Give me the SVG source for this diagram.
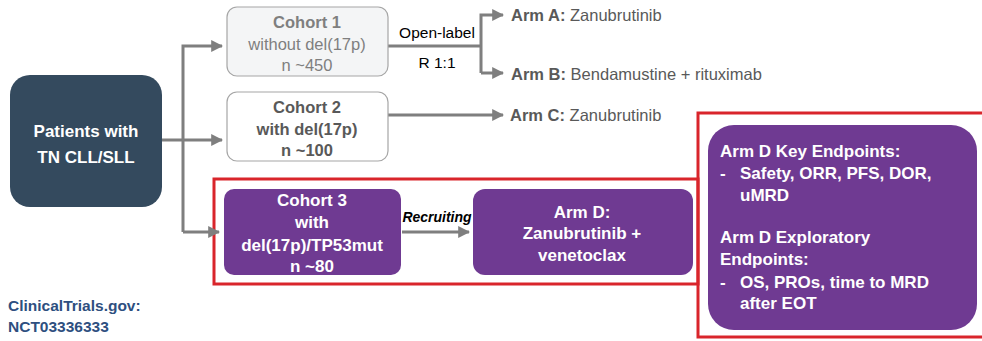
<svg xmlns="http://www.w3.org/2000/svg" width="982" height="341" viewBox="0 0 982 341">
<defs>
<marker id="ah" viewBox="0 0 10 10" refX="9" refY="5" markerWidth="4" markerHeight="4" orient="auto" markerUnits="strokeWidth"><path d="M0,0 L10,5 L0,10 z" fill="#7f7f7f"/></marker>
<style>
text{font-family:"Liberation Sans",Arial,sans-serif;}
.b{font-weight:bold;}
.w{fill:#ffffff;font-weight:bold;font-size:17px;}
.g{fill:#595959;font-size:16.5px;}
.conn{fill:none;stroke:#7f7f7f;stroke-width:3;}
.red{fill:none;stroke:#d9252b;stroke-width:3;}
.pur{fill:#6f3a92;}
</style>
</defs>
<rect width="982" height="341" fill="#ffffff"/>
<g id="highlight">
<rect class="red" x="214" y="179" width="484" height="105"/>
<rect class="red" x="698" y="113" width="290" height="224"/>
</g>
<g id="connectors">
<path class="conn" d="M162,140 H222" marker-end="url(#ah)"/>
<path class="conn" d="M183,232 V46 H222" marker-end="url(#ah)"/>
<path class="conn" d="M183,232 H219" marker-end="url(#ah)"/>
<path class="conn" d="M388,46 H481"/>
<path class="conn" d="M481,73 V15 H503" marker-end="url(#ah)"/>
<path class="conn" d="M481,73 H503" marker-end="url(#ah)"/>
<path class="conn" d="M388,115 H503" marker-end="url(#ah)"/>
<path class="conn" d="M402,232 H469" marker-end="url(#ah)"/>
<text x="437" y="38" text-anchor="middle" fill="#000" font-size="15.5">Open-label</text>
<text x="437" y="68" text-anchor="middle" fill="#000" font-size="15.5">R 1:1</text>
<text x="437" y="222" text-anchor="middle" fill="#000" font-size="14" font-weight="bold" font-style="italic">Recruiting</text>
</g>
<g id="patients">
<rect x="10" y="75" width="152" height="132" rx="20" fill="#344a5e"/>
<text class="w" x="86" y="137" text-anchor="middle">Patients with</text>
<text class="w" x="86" y="163" text-anchor="middle">TN CLL/SLL</text>
</g>
<g id="cohort1">
<rect x="227" y="7" width="161" height="69" rx="10" fill="#f4f5f6" stroke="#a6a6a6" stroke-width="1.2"/>
<text x="307" y="28" text-anchor="middle" fill="#7f7f7f" font-size="16.5" font-weight="bold">Cohort 1</text>
<text x="307" y="50" text-anchor="middle" fill="#7f7f7f" font-size="16.5">without del(17p)</text>
<text x="307" y="71" text-anchor="middle" fill="#7f7f7f" font-size="16.5">n ~450</text>
</g>
<g id="cohort2">
<rect x="227" y="92" width="161" height="69" rx="10" fill="#ffffff" stroke="#a6a6a6" stroke-width="1.2"/>
<text x="307" y="113" text-anchor="middle" fill="#595959" font-size="16.5" font-weight="bold">Cohort 2</text>
<text x="307" y="135" text-anchor="middle" fill="#595959" font-size="16.5" font-weight="bold">with del(17p)</text>
<text x="307" y="156" text-anchor="middle" fill="#595959" font-size="16.5" font-weight="bold">n ~100</text>
</g>
<g id="armA">
<text class="g" x="511" y="21"><tspan class="b">Arm A:</tspan> Zanubrutinib</text>
</g>
<g id="armB">
<text class="g" x="511" y="80"><tspan class="b">Arm B:</tspan> Bendamustine + rituximab</text>
</g>
<g id="armC">
<text class="g" x="510" y="121"><tspan class="b">Arm C:</tspan> Zanubrutinib</text>
</g>
<g id="cohort3">
<rect class="pur" x="224" y="189" width="177" height="86" rx="10"/>
<text class="w" x="312" y="206" text-anchor="middle">Cohort 3</text>
<text class="w" x="312" y="228" text-anchor="middle">with</text>
<text class="w" x="312" y="251" text-anchor="middle">del(17p)/TP53mut</text>
<text class="w" x="312" y="272" text-anchor="middle">n ~80</text>
</g>
<g id="armD">
<rect class="pur" x="473" y="189" width="220" height="86" rx="12"/>
<text class="w" x="582" y="218" text-anchor="middle">Arm D:</text>
<text class="w" x="582" y="239" text-anchor="middle">Zanubrutinib +</text>
<text class="w" x="582" y="261" text-anchor="middle">venetoclax</text>
</g>
<g id="endpoints">
<rect class="pur" x="708" y="125" width="269" height="205" rx="26"/>
<text class="w" x="720" y="157">Arm D Key Endpoints:</text>
<text class="w" x="720" y="179">-</text>
<text class="w" x="740" y="179">Safety, ORR, PFS, DOR,</text>
<text class="w" x="740" y="201">uMRD</text>
<text class="w" x="720" y="243">Arm D Exploratory</text>
<text class="w" x="720" y="265">Endpoints:</text>
<text class="w" x="720" y="288">-</text>
<text class="w" x="740" y="288">OS, PROs, time to MRD</text>
<text class="w" x="740" y="309">after EOT</text>
</g>
<g id="source">
<text x="8" y="311" fill="#2e4f7f" font-size="15.5" font-weight="bold">ClinicalTrials.gov:</text>
<text x="8" y="332" fill="#2e4f7f" font-size="15.5" font-weight="bold">NCT03336333</text>
</g>
</svg>
